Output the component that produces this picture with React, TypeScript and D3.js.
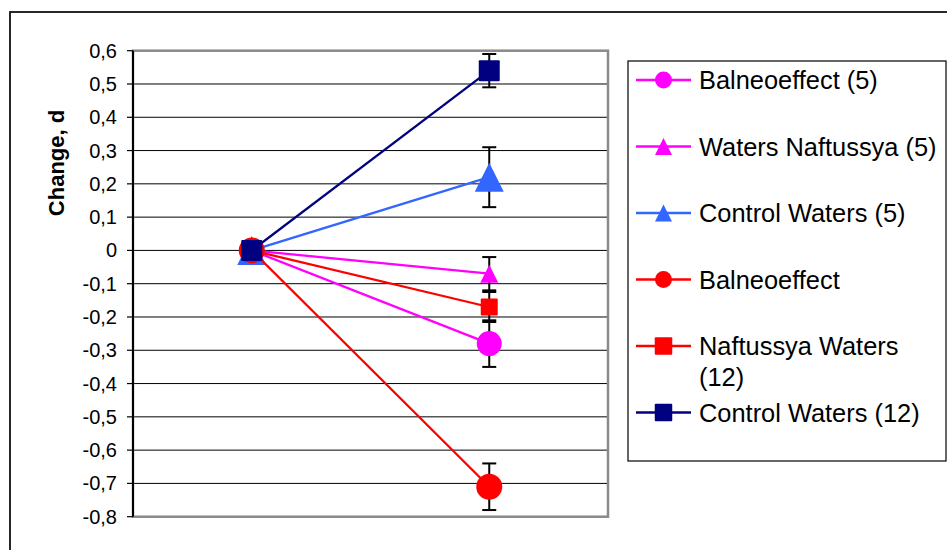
import React from "react";
import * as d3 from "d3";

const categories = ["Before", "After"];
const yTicks = [0.6, 0.5, 0.4, 0.3, 0.2, 0.1, 0, -0.1, -0.2, -0.3, -0.4, -0.5, -0.6, -0.7, -0.8];

const seriesNames = [
  "Balneoeffect (5)",
  "Waters Naftussya (5)",
  "Control Waters (5)",
  "Balneoeffect",
  "Naftussya Waters|(12)",
  "Control Waters (12)",
];
const seriesColors = ["#FF00FF", "#FF00FF", "#3366FF", "#FF0000", "#FF0000", "#000080"];
const seriesMarkers = ["circle", "triangle", "triangle", "circle", "square", "square"];
const markerSizes = [25, 18, 29, 26, 17, 21];

const balneo5Values = [0, -0.28];
const waters5Values = [0, -0.07];
const control5Values = [0, 0.22];
const balneoValues = [0, -0.71];
const naft12Values = [0, -0.17];
const control12Values = [0, 0.54];

const balneo5Err = [0, 0.07];
const waters5Err = [0, 0.05];
const control5Err = [0, 0.09];
const balneoErr = [0, 0.07];
const naft12Err = [0, 0.045];
const control12Err = [0, 0.05];

const seriesValues = [balneo5Values, waters5Values, control5Values, balneoValues, naft12Values, control12Values];
const seriesErrors = [balneo5Err, waters5Err, control5Err, balneoErr, naft12Err, control12Err];

const W = 947;
const H = 550;
const plotL = 133;
const plotR = 608;
const plotT = 50.7;
const plotB = 516.7;

const font = "'Liberation Sans', Arial, sans-serif";

function Marker({ type, cx, cy, size, color }: { type: string; cx: number; cy: number; size: number; color: string }) {
  if (type === "circle") return <circle cx={cx} cy={cy} r={size / 2} fill={color} />;
  if (type === "square")
    return <rect x={cx - size / 2} y={cy - size / 2} width={size} height={size} rx={1} fill={color} />;
  const h = size;
  const w = size;
  const pts = `${cx},${cy - h / 2} ${cx + w / 2},${cy + h / 2} ${cx - w / 2},${cy + h / 2}`;
  return <polygon points={pts} fill={color} />;
}

export default function App() {
  const x = d3.scalePoint<string>().domain(categories).range([plotL, plotR]).padding(0.5);
  const y = d3.scaleLinear().domain([-0.8, 0.6]).range([plotB, plotT]);
  const line = d3
    .line<number>()
    .x((_, i) => x(categories[i]) as number)
    .y((d) => y(d));
  const fmt = (v: number) => (Math.abs(v) < 1e-9 ? "0" : d3.format(".1f")(v).replace(".", ",").replace("−", "-"));

  const legendX = 628;
  const legendY = 61;
  const legendW = 318;
  const legendH = 400;
  const itemY0 = 80;
  const itemStep = 66.5;
  const legendMarkerSizes = [17, 17, 17, 17, 17.5, 17.5];

  return (
    <svg width={W} height={H} style={{ position: "absolute", left: 0, top: 0, background: "#fff" }} fontFamily={font}>
      <rect x={0} y={0} width={W} height={H} fill="#fff" />
      {/* outer chart border */}
      <rect x={10} y={12} width={W + 20} height={H + 20} fill="none" stroke="#111" strokeWidth={1.8} />

      {/* gridlines */}
      {yTicks.map((t) => (
        <line key={"g" + t} x1={plotL} x2={plotR} y1={y(t)} y2={y(t)} stroke="#000" strokeWidth={1} />
      ))}
      {/* plot frame */}
      <rect x={plotL} y={plotT} width={plotR - plotL} height={plotB - plotT} fill="none" stroke="#8a8a8a" strokeWidth={2.5} />
      {/* y axis */}
      <line x1={plotL} x2={plotL} y1={plotT} y2={plotB} stroke="#000" strokeWidth={2} />
      {yTicks.map((t) => (
        <g key={"t" + t}>
          <line x1={plotL - 6} x2={plotL} y1={y(t)} y2={y(t)} stroke="#000" strokeWidth={1.2} />
          <text x={117} y={y(t)} dy="0.35em" textAnchor="end" fontSize={20} fill="#000">
            {fmt(t)}
          </text>
        </g>
      ))}
      <text
        x={64}
        y={163}
        transform="rotate(-90 64 163)"
        textAnchor="middle"
        fontSize={22}
        fontWeight="bold"
        fill="#000"
      >
        Change, d
      </text>

      {/* error bars */}
      {seriesValues.map((vals, s) =>
        vals.map((v, i) => {
          const e = seriesErrors[s][i];
          if (!e) return null;
          const cx = x(categories[i]) as number;
          return (
            <g key={`e${s}-${i}`} stroke="#000" strokeWidth={2}>
              <line x1={cx} x2={cx} y1={y(v + e)} y2={y(v - e)} />
              <line x1={cx - 7} x2={cx + 7} y1={y(v + e)} y2={y(v + e)} />
              <line x1={cx - 7} x2={cx + 7} y1={y(v - e)} y2={y(v - e)} />
            </g>
          );
        })
      )}

      {/* series */}
      {seriesValues.map((vals, s) => (
        <g key={"s" + s}>
          <path d={line(vals) || ""} fill="none" stroke={seriesColors[s]} strokeWidth={2.3} />
          {vals.map((v, i) => (
            <Marker
              key={i}
              type={seriesMarkers[s]}
              cx={x(categories[i]) as number}
              cy={y(v)}
              size={markerSizes[s]}
              color={seriesColors[s]}
            />
          ))}
        </g>
      ))}

      {/* legend */}
      <rect x={legendX} y={legendY} width={legendW} height={legendH} fill="#fff" stroke="#000" strokeWidth={1.2} />
      {seriesNames.map((name, s) => {
        const cy = itemY0 + s * itemStep;
        const lines = name.split("|");
        return (
          <g key={"l" + s}>
            <line x1={636} x2={691} y1={cy} y2={cy} stroke={seriesColors[s]} strokeWidth={2.3} />
            <Marker type={seriesMarkers[s]} cx={663.5} cy={cy} size={legendMarkerSizes[s]} color={seriesColors[s]} />
            {lines.map((ln, k) => (
              <text key={k} x={699} y={cy + 9 + k * 31.3} fontSize={25.4} fill="#000">
                {ln}
              </text>
            ))}
          </g>
        );
      })}
    </svg>
  );
}
